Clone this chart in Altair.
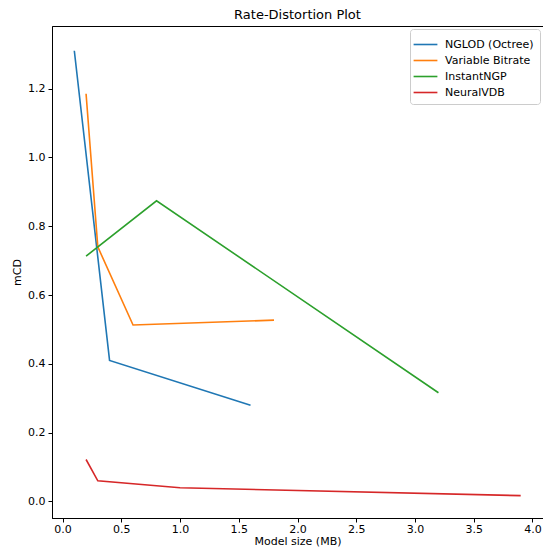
import altair as alt
import pandas as pd

series_names = ["NGLOD (Octree)", "Variable Bitrate", "InstantNGP", "NeuralVDB"]
colors = ["#1f77b4", "#ff7f0e", "#2ca02c", "#d62728"]

nglod_x = [0.1, 0.4, 1.6]
nglod_y = [1.31, 0.41, 0.28]
vbr_x = [0.2, 0.3, 0.6, 1.8]
vbr_y = [1.185, 0.74, 0.513, 0.527]
ingp_x = [0.2, 0.8, 3.2]
ingp_y = [0.713, 0.874, 0.316]
nvdb_x = [0.2, 0.3, 1.0, 3.9]
nvdb_y = [0.122, 0.06, 0.04, 0.017]

xs = [nglod_x, vbr_x, ingp_x, nvdb_x]
ys = [nglod_y, vbr_y, ingp_y, nvdb_y]

rows = []
for name, sx, sy in zip(series_names, xs, ys):
    for i, (a, b) in enumerate(zip(sx, sy)):
        rows.append({"method": name, "size": a, "mcd": b, "ord": i})
df = pd.DataFrame(rows)

font = "DejaVu Sans"

chart = alt.Chart(df).mark_line(strokeWidth=1.6, clip=True).encode(
    x=alt.X("size:Q", title="Model size (MB)",
            scale=alt.Scale(domain=[-0.09, 4.09], nice=False, zero=False),
            axis=alt.Axis(values=[0, 0.5, 1.0, 1.5, 2.0, 2.5, 3.0, 3.5, 4.0], format=".1f",
                          grid=False, tickColor="black", domainColor="black",
                          labelColor="black", titleColor="black", labelFont=font, titleFont=font,
                          labelFontSize=11, titleFontSize=11, titleFontWeight="normal",
                          tickSize=4, labelPadding=1, titlePadding=1)),
    y=alt.Y("mcd:Q", title="mCD",
            scale=alt.Scale(domain=[-0.048, 1.382], nice=False, zero=False),
            axis=alt.Axis(values=[0, 0.2, 0.4, 0.6, 0.8, 1.0, 1.2], format=".1f",
                          grid=False, tickColor="black", domainColor="black",
                          labelColor="black", titleColor="black", labelFont=font, titleFont=font,
                          labelFontSize=11, titleFontSize=11, titleFontWeight="normal",
                          tickSize=4, labelPadding=3, titlePadding=5)),
    color=alt.Color("method:N", sort=series_names,
                    scale=alt.Scale(domain=series_names, range=colors),
                    legend=alt.Legend(title=None, orient="top-right", offset=3,
                                      symbolType="M-1.4,0H1.4", symbolStrokeWidth=1.6, symbolSize=289,
                                      labelFont=font, labelFontSize=11, labelColor="black",
                                      strokeColor="#cccccc", padding=6, cornerRadius=3,
                                      fillColor="white", rowPadding=1, labelOffset=10)),
    order="ord:Q",
).properties(
    width=491, height=492,
    title=alt.TitleParams("Rate-Distortion Plot", font=font, fontSize=13,
                          fontWeight="normal", color="black", anchor="middle", offset=4),
    autosize=alt.AutoSizeParams(type="none"),
    padding={"left": 44, "top": 18, "right": 0, "bottom": 32},
).configure_view(stroke="black", strokeWidth=1)

chart.save("out.html", embed_options={"renderer": "svg", "actions": False})
